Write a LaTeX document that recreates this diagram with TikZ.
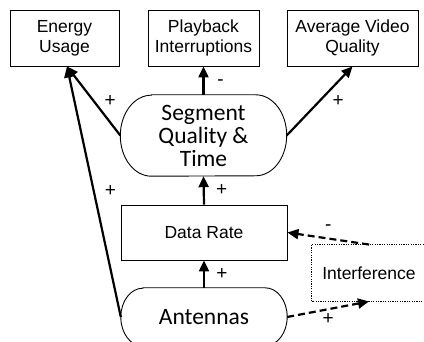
\documentclass[tikz,border=0pt]{standalone}
\usepackage{fontspec}
\setmainfont{Liberation Sans}
\newfontfamily\calfont{Carlito}
\usetikzlibrary{arrows.meta}

% outline of a stadium (flat top and bottom, elliptical ends) around a node
\newcommand\stadiumoutline[3]{%
  \draw[line width=0.9pt] ([xshift=#2]#1.north west) -- ([xshift=-#2]#1.north east)
    arc[start angle=90,end angle=-90,x radius=#2,y radius=#3]
    -- ([xshift=#2]#1.south west)
    arc[start angle=270,end angle=90,x radius=#2,y radius=#3] -- cycle;}

\tikzset{
  box/.style={draw, line width=0.9pt, inner sep=0pt, align=center,
    minimum height=56pt, font=\fontsize{17.5}{20}\selectfont},
  stadium/.style={inner sep=0pt, align=center, minimum width=166pt,
    font=\calfont\fontsize{23.5}{23}\selectfont},
  link/.style={line width=2.2pt, -{Triangle[length=11pt,width=10pt]}},
  dlink/.style={link, dash pattern=on 7pt off 4pt},
  sign/.style={inner sep=0pt, font=\fontsize{19}{19}\selectfont},
}

\begin{document}
\begin{tikzpicture}[x=1pt,y=1pt]
  \useasboundingbox (0,0) rectangle (424,342);

  % outcome boxes
  \node[box, minimum width=109pt] (energy)   at (64.5,304)  {Energy\\Usage};
  \node[box, minimum width=111pt] (playback) at (203.5,304) {Playback\\Interruptions};
  \node[box, minimum width=131pt] (avq)      at (352.5,304) {Average Video\\Quality};

  % middle layer
  \node[stadium, minimum height=81pt] (segment) at (203.5,206.5) {Segment\\Quality \&\\Time};
  \stadiumoutline{segment}{31pt}{40.5pt}
  \node[box, minimum width=166pt, minimum height=55pt] (datarate) at (204,109.5) {Data Rate};

  % inputs
  \node[stadium, minimum height=58pt] (antennas) at (204,25) {Antennas};
  \stadiumoutline{antennas}{22pt}{29pt}
  \node[box, draw=none, minimum width=114pt] (interference) at (369,69) {Interference};
  \draw[line width=0.9pt, dash pattern=on 1.2pt off 1.2pt]
    (interference.south west) rectangle (interference.north east);

  \coordinate (eutip) at ([xshift=2.5pt]energy.south);

  % solid influences
  \draw[link] (segment.north) -- (playback.south)
    node[sign, midway, xshift=17pt, yshift=-2pt] {-};
  \draw[link] (segment.east) -- (avq.south)
    node[sign, midway, xshift=18.5pt] {+};
  \draw[link] (segment.west) -- (eutip)
    node[sign, midway, xshift=16.5pt] {+};
  \draw[link] (antennas.west) -- (eutip)
    node[sign, midway, xshift=16.5pt, yshift=1pt] {+};
  \draw[link] (datarate.north) -- (segment.south)
    node[sign, midway, xshift=18pt] {+};
  \draw[link] (antennas.north) -- (datarate.south)
    node[sign, midway, xshift=18pt] {+};

  % dashed influences through interference
  \draw[dlink] (interference.north) -- (datarate.east)
    node[sign, midway, yshift=11pt] {-};
  \draw[dlink] (antennas.east) -- (interference.south)
    node[sign, midway, yshift=-10pt] {+};
\end{tikzpicture}
\end{document}
